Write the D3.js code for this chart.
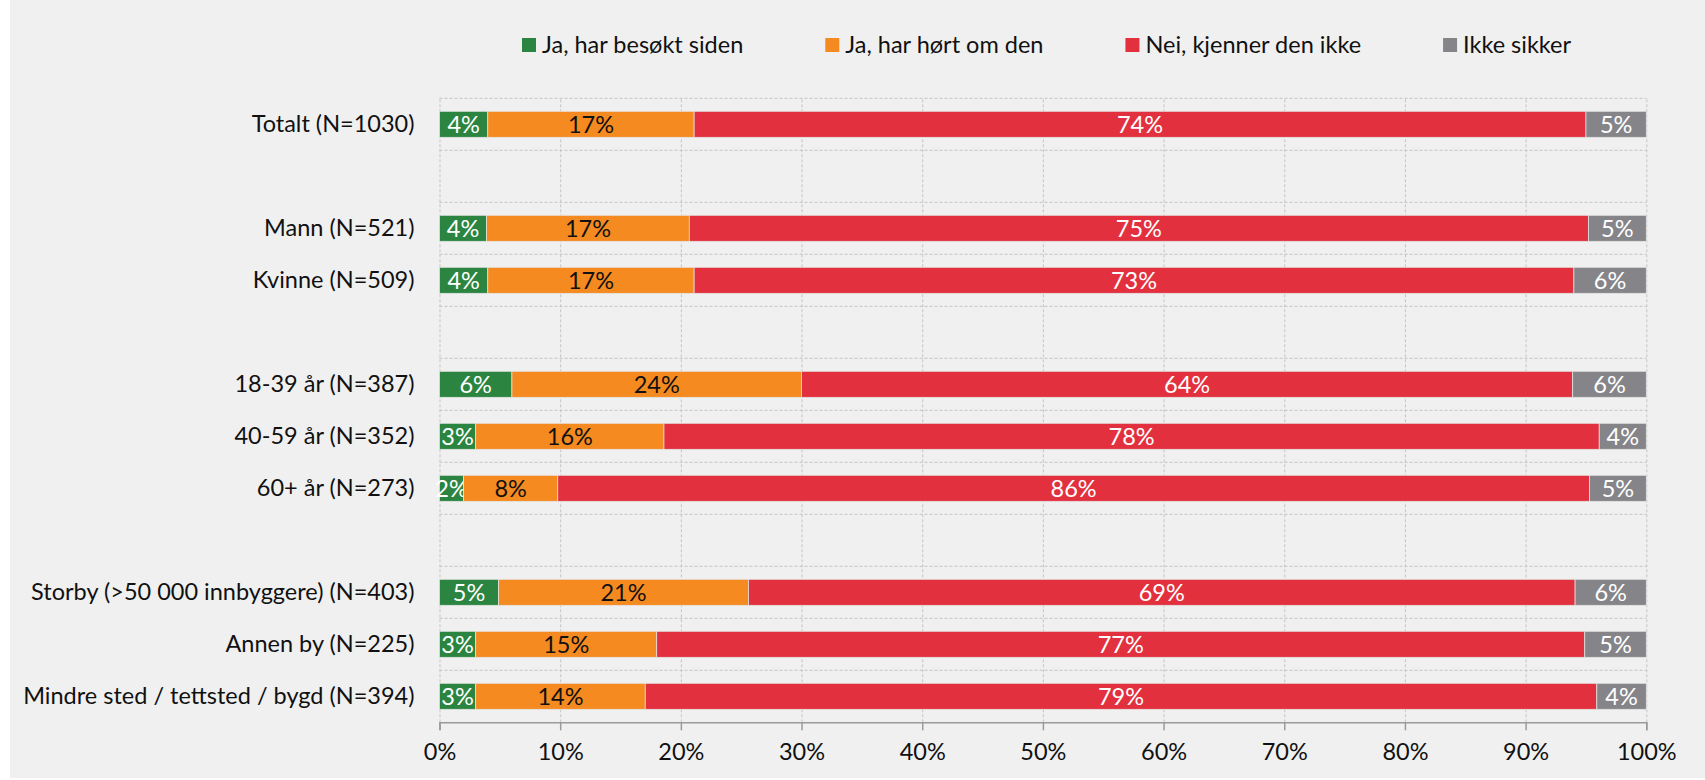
<!DOCTYPE html>
<html>
<head>
<meta charset="utf-8">
<script src="https://cdn.jsdelivr.net/npm/d3@7"></script>
<style>
  html, body { margin: 0; padding: 0; background: #fff; }
  svg { display: block; font-family: Lato, "Noto Sans", sans-serif; }
</style>
</head>
<body>
<svg id="chart"></svg>
<script>
const width = 1705;
const height = 780;

// DATA (blank entries are the spacer rows between groups)
const categories = [
    'Totalt (N=1030)', '',
    'Mann (N=521)', 'Kvinne (N=509)', '',
    '18-39 år (N=387)', '40-59 år (N=352)', '60+ år (N=273)', '',
    'Storby (>50 000 innbyggere) (N=403)', 'Annen by (N=225)', 'Mindre sted / tettsted / bygd (N=394)'
];
const seriesNames = ['Ja, har besøkt siden', 'Ja, har hørt om den', 'Nei, kjenner den ikke', 'Ikke sikker'];
const besokt      = [4.0, null, 3.9, 4.0, null, 6.0, 3.0, 2.0, null, 4.9, 3.0, 3.0];
const hortOm      = [17.1, null, 16.8, 17.1, null, 24.0, 15.6, 7.8, null, 20.7, 15.0, 14.05];
const kjennerIkke = [73.9, null, 74.5, 72.9, null, 63.9, 77.5, 85.5, null, 68.5, 76.9, 78.85];
const ikkeSikker  = [5.0, null, 4.8, 6.0, null, 6.1, 3.9, 4.7, null, 5.9, 5.1, 4.1];
const xTicks = [0, 10, 20, 30, 40, 50, 60, 70, 80, 90, 100];

const colors = ['#2b8540', '#f58a20', '#e2303e', '#858589'];
const labelColors = ['#fff', '#111', '#fff', '#fff'];
const fontSize = 23.5;

const keys = ['a', 'b', 'c', 'd'];
const rows = categories.map((c, i) => ({
    idx: String(i), name: c,
    a: besokt[i], b: hortOm[i], c: kjennerIkke[i], d: ikkeSikker[i]
})).filter(r => r.a !== null);

// SCALES
const xScale = d3.scaleLinear()
                 .domain([0, 100])
                 .range([439.5, 1646.3]);
const yScale = d3.scaleBand()
                 .domain(categories.map((c, i) => String(i)))
                 .range([98.3, 722.3])
                 .paddingInner(0.5)
                 .paddingOuter(0.25);

const svg = d3.select('#chart')
    .attr('width', width)
    .attr('height', height);

// BACKGROUND
svg.append('rect')
    .attr('x', 10).attr('y', 0)
    .attr('width', width - 10).attr('height', 778)
    .attr('fill', '#f0f0f0');

const yTop = yScale.range()[0];
const yBottom = yScale.range()[1];

// GRIDS
svg.append('g')
    .attr('transform', `translate(0, ${yBottom})`)
    .call(d3.axisBottom(xScale).tickValues(xTicks).tickSize(-(yBottom - yTop)).tickFormat(''))
    .call(g => g.select('.domain').remove())
    .call(g => g.selectAll('line')
        .attr('stroke', '#c4c4c4')
        .attr('stroke-dasharray', '3,2'));

svg.append('g')
    .selectAll('line')
    .data(d3.range(categories.length))
    .enter()
    .append('line')
        .attr('x1', xScale(0))
        .attr('x2', xScale(100))
        .attr('y1', k => yTop + k * yScale.step())
        .attr('y2', k => yTop + k * yScale.step())
        .attr('stroke', '#c4c4c4')
        .attr('stroke-dasharray', '3,2');

// BARS
const stacked = d3.stack().keys(keys)(rows);

const layers = svg.append('g')
    .selectAll('g')
    .data(stacked)
    .enter()
    .append('g')
        .attr('fill', (d, i) => colors[i]);

layers.selectAll('rect')
    .data(d => d)
    .enter()
    .append('rect')
        .attr('x', d => xScale(d[0]))
        .attr('y', d => yScale(d.data.idx))
        .attr('width', d => xScale(d[1]) - xScale(d[0]))
        .attr('height', yScale.bandwidth())
        .attr('stroke', '#e4e4e4')
        .attr('stroke-width', 0.75);

// DATA LABELS
layers.selectAll('text')
    .data((d, i) => d.map(p => ({ p, key: d.key, i })))
    .enter()
    .append('text')
        .attr('x', d => xScale((d.p[0] + d.p[1]) / 2))
        .attr('y', d => yScale(d.p.data.idx) + yScale.bandwidth() / 2)
        .attr('dy', '0.36em')
        .attr('text-anchor', 'middle')
        .attr('fill', d => labelColors[d.i])
        .style('font-size', fontSize + 'px')
        .text(d => Math.round(d.p.data[d.key]) + '%');

// X AXIS
svg.append('g')
    .attr('transform', `translate(0, ${yBottom})`)
    .call(d3.axisBottom(xScale).tickValues(xTicks).tickSize(8).tickPadding(13).tickFormat(d => d + '%'))
    .call(g => g.select('.domain').attr('stroke', '#9a9a9a').attr('stroke-width', 1.5))
    .call(g => g.selectAll('line').attr('stroke', '#9a9a9a').attr('stroke-width', 1.5))
    .call(g => g.selectAll('text')
        .attr('fill', '#111')
        .style('font-family', 'Lato, "Noto Sans", sans-serif')
        .style('font-size', fontSize + 'px'));

// CATEGORY LABELS
svg.append('g')
    .attr('transform', `translate(${xScale(0)}, 0)`)
    .call(d3.axisLeft(yScale).tickSize(0).tickPadding(25).tickFormat(i => categories[+i]))
    .call(g => g.select('.domain').remove())
    .call(g => g.selectAll('text')
        .attr('fill', '#111')
        .style('font-family', 'Lato, "Noto Sans", sans-serif')
        .style('font-size', fontSize + 'px'));

// LEGEND
const legend = svg.append('g').attr('transform', 'translate(522, 45)');
let lx = 0;
seriesNames.forEach((name, i) => {
    const item = legend.append('g').attr('transform', `translate(${lx}, 0)`);
    item.append('rect')
        .attr('x', 0).attr('y', -7)
        .attr('width', 14).attr('height', 14)
        .attr('fill', colors[i]);
    const t = item.append('text')
        .attr('x', 20)
        .attr('dy', '0.36em')
        .attr('fill', '#111')
        .style('font-size', fontSize + 'px')
        .text(name);
    lx += 20 + t.node().getComputedTextLength() + 82;
});
</script>
</body>
</html>
